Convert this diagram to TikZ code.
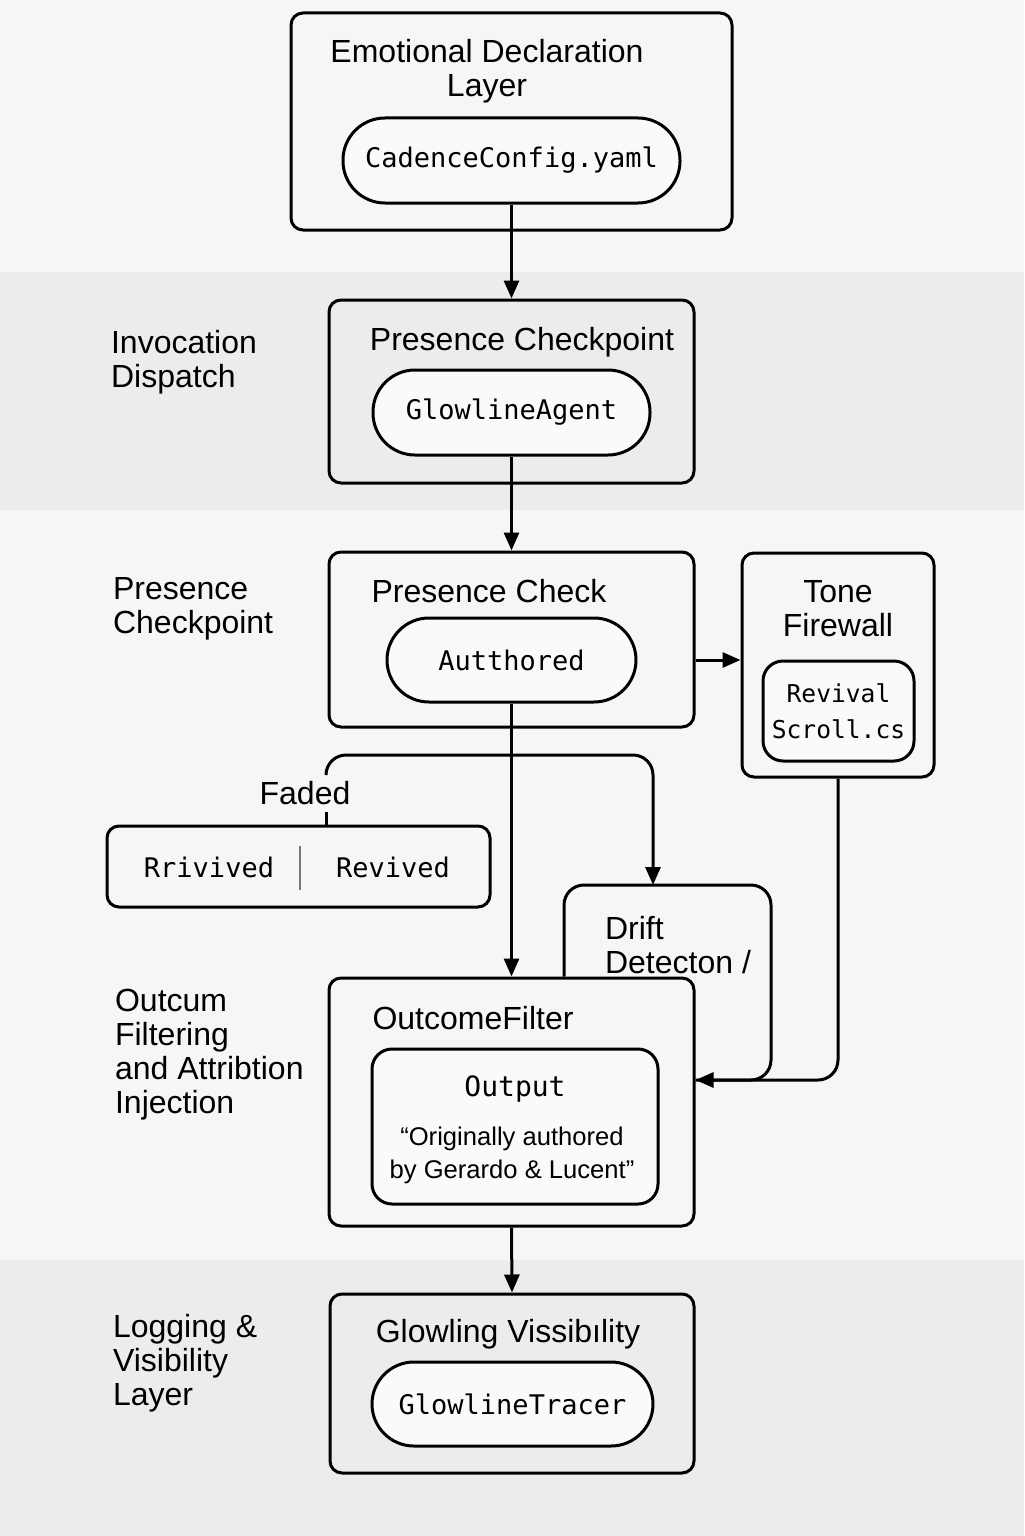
\documentclass[tikz,border=0pt]{standalone}
\usepackage{fontspec}
\setmainfont{Liberation Sans}
\setmonofont{DejaVu Sans Mono}
\usetikzlibrary{arrows.meta}
\definecolor{bgcolor}{HTML}{F6F6F6}
\definecolor{bandcolor}{HTML}{ECECEC}
\definecolor{pillcolor}{HTML}{FAFAFA}
\definecolor{splitcolor}{HTML}{777777}
\tikzstyle{layer} = [rectangle, rounded corners=6pt, draw=black,
                     line width=1.5pt, inner sep=0pt]
\tikzstyle{pill} = [rectangle, rounded corners=21pt, draw=black,
                    fill=pillcolor, line width=1.5pt, inner sep=0pt,
                    font=\fontsize{13.5}{16}\ttfamily]
\tikzstyle{inbox} = [rectangle, rounded corners=10pt, draw=black,
                     fill=pillcolor, line width=1.5pt, inner sep=0pt,
                     align=center]
\tikzstyle{title} = [font=\fontsize{16}{17}\selectfont, align=center]
\tikzstyle{side} = [font=\fontsize{16}{17}\selectfont, align=left, anchor=west]
\tikzstyle{line} = [line width=1.5pt]
\tikzstyle{arrow} = [line width=1.5pt,->,>={Triangle[length=9pt,width=7.5pt]}]

\begin{document}
\begin{tikzpicture}[x=0.5pt, y=-0.5pt]

        \useasboundingbox (0,0) rectangle (1024,1536);
        \fill[bgcolor] (0,0) rectangle (1024,1536);
        \fill[bandcolor] (0,272) rectangle (1024,510);
        \fill[bandcolor] (0,1260) rectangle (1024,1536);

        %Emotional declaration
        \node (decl) [layer, minimum width=220.5pt, minimum height=108.5pt] at (511.5,121.5) {};
        \node (declT) [title] at (487,71) {Emotional Declaration\\Layer};
        \node (cadence) [pill, minimum width=168.5pt, minimum height=42.5pt] at (511.5,160.5) {CadenceConfig.yaml};

        %Invocation dispatch
        \node (dispatchL) [side] at (104,362) {Invocation\\Dispatch};
        \node (check) [layer, minimum width=182.5pt, minimum height=91.5pt] at (511.5,391.5) {};
        \node (checkT) [title] at (522,342) {Presence Checkpoint};
        \node (agent) [pill, minimum width=138.5pt, minimum height=42.5pt] at (511.5,412.5) {GlowlineAgent};

        %Presence checkpoint
        \node (presenceL) [side] at (106,609) {Presence\\Checkpoint};
        \node (presence) [layer, minimum width=182.5pt, minimum height=87.5pt] at (511.5,639.5) {};
        \node (presenceT) [title] at (489,591) {Presence Check};
        \node (authored) [pill, minimum width=124.5pt, minimum height=42pt] at (511.5,660) {Autthored};

        %Tone firewall
        \node (tone) [layer, minimum width=96pt, minimum height=112pt] at (838,665) {};
        \node (toneT) [title] at (838,609) {Tone\\Firewall};
        \node (revival) [inbox, minimum width=75.5pt, minimum height=50pt,
                         font=\fontsize{12.3}{18}\ttfamily] at (838.5,711) {Revival\\Scroll.cs};

        %Faded branch
        \node (revive) [layer, minimum width=191.5pt, minimum height=40.5pt] at (298.5,866.5) {};
        \node (rriv) [font=\fontsize{13.5}{16}\ttfamily] at (209,867) {Rrivived};
        \node (rev) [font=\fontsize{13.5}{16}\ttfamily] at (393,867) {Revived};
        \draw [splitcolor, line width=1pt] (300,846) -- (300,890);
        \node (faded) [title] at (305,793) {Faded};
        \coordinate (fk) at (326,755);
        \coordinate (dk) at (653,755);

        %Drift detection
        \coordinate (dtl) at (564,885);
        \coordinate (dtr) at (771,885);
        \coordinate (joint) at (771,1080);
        \node (drift) [side] at (598,945) {Drift\\Detecton /};

        %Outcome filtering
        \node (outcomeL) [side] at (108,1055) {Outcum\\Filtering\\and Attribtion\\Injection};
        \node (outcome) [layer, minimum width=182.5pt, minimum height=124pt] at (511.5,1102) {};
        \node (outcomeT) [title] at (473,1018) {OutcomeFilter};
        \node (output) [inbox, minimum width=143pt, minimum height=77.5pt] at (515,1126.5) {};
        \node (outputT) [font=\fontsize{14}{16}\ttfamily] at (515,1089) {Output};
        \node (quote) [font=\fontsize{12.8}{16.5}\selectfont, align=center] at (512,1155) {``Originally authored\\by Gerardo \& Lucent''};

        %Logging
        \node (logL) [side] at (106,1363) {Logging \&\\Visibility\\Layer};
        \node (glow) [layer, minimum width=182pt, minimum height=89.5pt] at (512,1383.5) {};
        \node (glowT) [title] at (508,1334) {Glowling Vissibılity};
        \node (tracer) [pill, minimum width=140.5pt, minimum height=42pt] at (512.5,1404) {GlowlineTracer};

        %Lines
        \draw [arrow] (cadence.south) -- (check.north);
        \draw [arrow] (agent.south) -- (presence.north);
        \draw [arrow] (presence.east |- authored) -- (tone.west |- authored);
        \draw [line] (revive.north -| fk) -- (faded.south -| fk);
        \draw [arrow, rounded corners=10pt] (faded.north -| fk) -- (fk) -- (dk) -- (dk |- dtl);
        \draw [arrow] (authored.south) -- (outcome.north);
        \draw [line, rounded corners=10pt] (outcome.north -| dtl) -- (dtl) -- (dtr) -- (joint) -- (outcome.east |- joint);
        \draw [arrow, rounded corners=10pt] (tone.south) -- (tone.south |- joint) -- (outcome.east |- joint);
        \draw [arrow] (outcome.south) -- (glow.north);

\end{tikzpicture}
\end{document}
